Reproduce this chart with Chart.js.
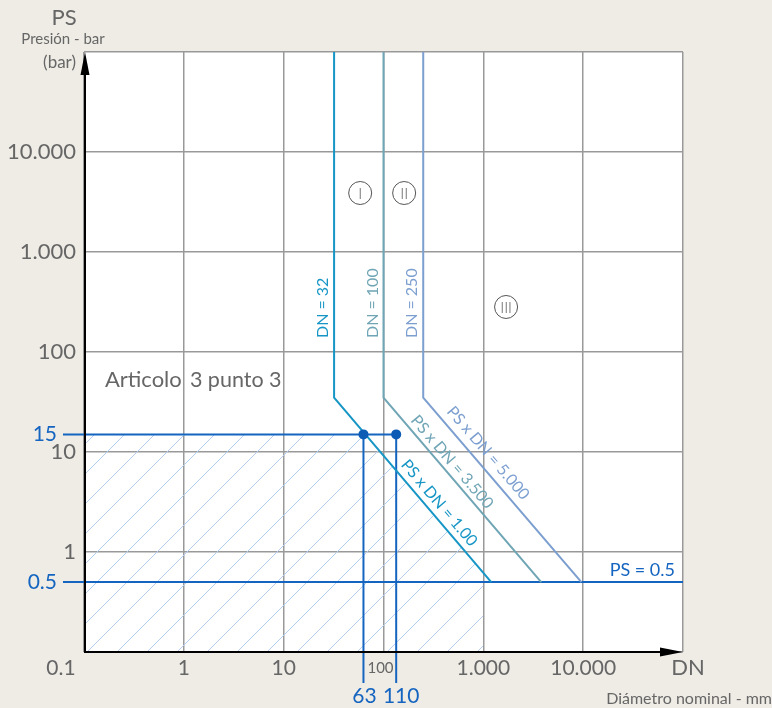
<!DOCTYPE html>
<html><head><meta charset="utf-8">
<script src="https://cdn.jsdelivr.net/npm/chart.js@4.4.1/dist/chart.umd.min.js"></script>
<style>html,body{margin:0;padding:0;background:#efece6;overflow:hidden}#wrap{width:772px;height:708px;position:relative}</style>
</head><body><div id="wrap"><canvas id="c" width="772" height="708"></canvas></div>
<script>
// ---- data ----
const gridDecades = [0.1, 1, 10, 100, 1000, 10000, 100000];
const xTickValues = [1, 10, 100, 1000, 10000];
const xTickLabels = ['1', '10', '100', '1.000', '10.000'];
const yTickValues = [1, 10, 100, 1000, 10000];
const yTickLabels = ['1', '10', '100', '1.000', '10.000'];
const line1 = [[32, 100000], [32, 35], [1200, 0.5]];
const line2 = [[100, 100000], [100, 35], [3800, 0.5]];
const line3 = [[250, 100000], [250, 35], [9600, 0.5]];
const ps15Line = [[0.0616, 15], [134, 15]];
const ps05Line = [[0.0616, 0.5], [100000, 0.5]];
const dn63Line = [[63, 15], [63, 0.049]];
const dn110Line = [[134, 15], [134, 0.049]];
const markPoints = [[63, 15], [134, 15]];
const hatchArea = [[0.1, 15], [63, 15], [1000, 0.6]];
const markLabels = ['63', '110'];
const markLabelValues = [63, 134];
const dnLabels = ['DN = 32', 'DN = 100', 'DN = 250'];
const dnValues = [32, 100, 250];
const diagLabels = ['PS x DN = 1.00', 'PS x DN = 3.500', 'PS x DN = 5.000'];
const diagLabelPos = [[361, 3.09], [486, 7.94], [1117, 9.77]];
const zoneLabels = ['I', 'II', 'III'];
const zonePos = [[58.4, 3890], [161, 3890], [1690, 282]];

const C1 = '#1796c6', C2 = '#6fa5b5', C3 = '#7c9fd0', BLUE = '#1565c0', GRAY = '#666666';
const toXY = a => a.map(p => ({x: p[0], y: p[1]}));

// hatch pattern
const pc = document.createElement('canvas'); pc.width = 30; pc.height = 30;
const pctx = pc.getContext('2d');
pctx.strokeStyle = '#b2cdef'; pctx.lineWidth = 1;
pctx.beginPath();
pctx.moveTo(-2, 32); pctx.lineTo(32, -2);
pctx.moveTo(-2, 2); pctx.lineTo(2, -2);
pctx.moveTo(28, 32); pctx.lineTo(32, 28);
pctx.stroke();
const hatch = pctx.createPattern(pc, 'repeat');
try { hatch.setTransform(new DOMMatrix().translate(19, 0)); } catch (e) {}

function txt(ctx, s, x, y, font, color, align, baseline, rot) {
  ctx.save();
  ctx.translate(x, y);
  if (rot) ctx.rotate(rot);
  ctx.font = font; ctx.fillStyle = color;
  ctx.textAlign = align || 'center'; ctx.textBaseline = baseline || 'middle';
  ctx.fillText(s, 0, 0);
  ctx.restore();
}

const deco = {
  id: 'deco',
  beforeDraw(chart) {
    const {ctx, chartArea: a} = chart;
    ctx.save();
    ctx.fillStyle = '#efece6'; ctx.fillRect(0, 0, chart.width, chart.height);
    ctx.fillStyle = '#ffffff'; ctx.fillRect(a.left, a.top, a.right - a.left, a.bottom - a.top);
    ctx.restore();
  },
  afterDraw(chart) {
    const {ctx, chartArea: a} = chart;
    const xs = chart.scales.x, ys = chart.scales.y;
    const F = 'Lato, "Open Sans", sans-serif';
    // axes with arrows
    ctx.save();
    ctx.strokeStyle = '#000'; ctx.fillStyle = '#000'; ctx.lineWidth = 2;
    ctx.beginPath(); ctx.moveTo(a.left + 1, a.bottom); ctx.lineTo(a.left + 1, a.top + 10); ctx.stroke();
    ctx.beginPath(); ctx.moveTo(a.left, a.bottom); ctx.lineTo(a.right - 10, a.bottom); ctx.stroke();
    ctx.beginPath(); ctx.moveTo(a.left + 1, a.top); ctx.lineTo(a.left - 3.5, a.top + 23); ctx.lineTo(a.left + 5.5, a.top + 23); ctx.closePath(); ctx.fill();
    ctx.beginPath(); ctx.moveTo(a.right, a.bottom); ctx.lineTo(a.right - 23, a.bottom - 4.5); ctx.lineTo(a.right - 23, a.bottom + 4.5); ctx.closePath(); ctx.fill();
    ctx.restore();

    // y ticks
    yTickValues.forEach((v, i) => txt(ctx, yTickLabels[i], a.left - 8, ys.getPixelForValue(v), '22px ' + F, GRAY, 'right'));
    // x ticks
    xTickValues.forEach((v, i) => {
      if (v === 100) txt(ctx, xTickLabels[i], xs.getPixelForValue(v) - 3, a.bottom + 16, '15px ' + F, GRAY);
      else txt(ctx, xTickLabels[i], xs.getPixelForValue(v), a.bottom + 16, '21px ' + F, GRAY);
    });
    txt(ctx, '0.1', a.left - 23, a.bottom + 16, '21px ' + F, GRAY);
    txt(ctx, 'DN', a.right + 5, a.bottom + 16, '22px ' + F, GRAY, 'center');
    txt(ctx, 'Diámetro nominal - mm', 772, a.bottom + 47, '16px ' + F, GRAY, 'right');
    txt(ctx, 'PS', 64, 18, '22px ' + F, GRAY);
    txt(ctx, 'Presión - bar', 63, 39, '15px ' + F, GRAY);
    txt(ctx, '(bar)', 76, 63, '17px ' + F, GRAY, 'right');

    // blue labels
    txt(ctx, '15', a.left - 27, ys.getPixelForValue(15), '21px ' + F, BLUE, 'right');
    txt(ctx, '0.5', a.left - 27, ys.getPixelForValue(0.5), '21px ' + F, BLUE, 'right');
    markLabelValues.forEach((v, i) => txt(ctx, markLabels[i], xs.getPixelForValue(v) + (i ? 5 : 1), a.bottom + 44, '21px ' + F, BLUE));
    txt(ctx, 'PS = 0.5', a.right - 8, ys.getPixelForValue(0.5) - 12, '18px ' + F, BLUE, 'right');

    // Articolo 3 punto 3
    txt(ctx, 'Articolo', xs.getPixelForValue(0.162), ys.getPixelForValue(52.5), '22px ' + F, GRAY, 'left');
    txt(ctx, '3 punto 3', xs.getPixelForValue(1.15), ys.getPixelForValue(52.5), '21.5px ' + F, GRAY, 'left');

    // DN labels (rotated)
    const dc = [C1, C2, C3];
    dnValues.forEach((v, i) => txt(ctx, dnLabels[i], xs.getPixelForValue(v) - 11, ys.getPixelForValue(138), '16px ' + F, dc[i], 'left', 'middle', -Math.PI / 2));

    // diagonal labels
    const lines = [line1, line2, line3];
    lines.forEach((ln, i) => {
      const x0 = xs.getPixelForValue(ln[1][0]), y0 = ys.getPixelForValue(ln[1][1]);
      const x1 = xs.getPixelForValue(ln[2][0]), y1 = ys.getPixelForValue(ln[2][1]);
      const ang = Math.atan2(y1 - y0, x1 - x0);
      txt(ctx, diagLabels[i], xs.getPixelForValue(diagLabelPos[i][0]), ys.getPixelForValue(diagLabelPos[i][1]), '16px ' + F, dc[i], 'center', 'middle', ang);
    });

    // zone circles
    zonePos.forEach((p, i) => {
      const cx = xs.getPixelForValue(p[0]), cy = ys.getPixelForValue(p[1]);
      ctx.save();
      ctx.strokeStyle = '#555'; ctx.lineWidth = 1;
      ctx.beginPath(); ctx.arc(cx, cy, 11.5, 0, Math.PI * 2); ctx.stroke();
      ctx.restore();
      txt(ctx, zoneLabels[i], cx, cy + 1, '300 15px ' + F, '#555');
    });
  }
};

const lineDs = (data, color, w) => ({type: 'line', data: toXY(data), borderColor: color, borderWidth: w || 2, pointRadius: 0, fill: false, clip: false, order: 1, tension: 0});

new Chart(document.getElementById('c'), {
  type: 'scatter',
  data: {
    datasets: [
      {type: 'line', data: toXY(hatchArea), borderWidth: 0, borderColor: 'rgba(0,0,0,0)', backgroundColor: hatch, fill: 'start', pointRadius: 0, order: 10},
      lineDs(line1, C1), lineDs(line2, C2), lineDs(line3, C3),
      lineDs(ps15Line, BLUE), lineDs(ps05Line, BLUE), lineDs(dn63Line, BLUE), lineDs(dn110Line, BLUE),
      {type: 'scatter', data: toXY(markPoints), pointRadius: 5, pointBackgroundColor: '#0c5bb4', pointBorderWidth: 0, order: 0}
    ]
  },
  options: {
    responsive: false, animation: false, devicePixelRatio: 1,
    layout: {padding: {left: 84, top: 52, right: 89, bottom: 56}},
    plugins: {legend: {display: false}, tooltip: {enabled: false}},
    scales: {
      x: {type: 'logarithmic', min: 0.1, max: 100000,
        afterBuildTicks: s => { s.ticks = gridDecades.map(v => ({value: v, major: true})); },
        ticks: {display: false}, grid: {color: '#999', lineWidth: 1.5, drawTicks: false}, border: {display: false}},
      y: {type: 'logarithmic', min: 0.1, max: 100000,
        afterBuildTicks: s => { s.ticks = gridDecades.map(v => ({value: v, major: true})); },
        ticks: {display: false}, grid: {color: '#999', lineWidth: 1.5, drawTicks: false}, border: {display: false}}
    }
  },
  plugins: [deco]
});
</script></body></html>
